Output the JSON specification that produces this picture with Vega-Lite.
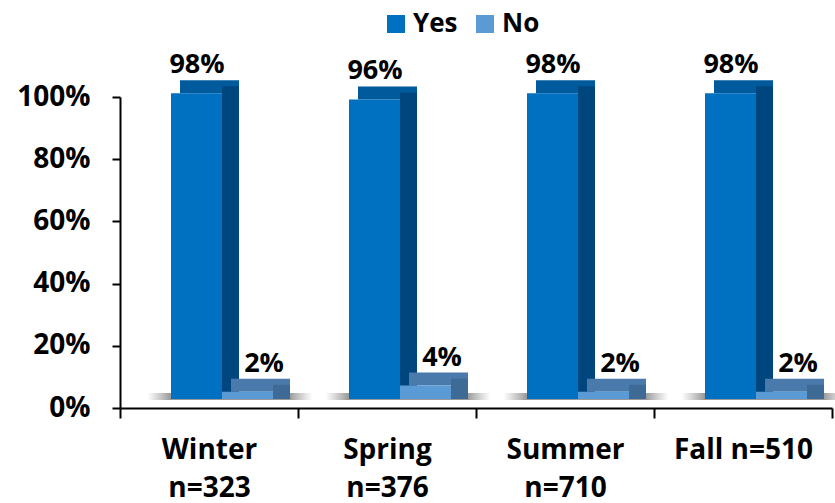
{
  "$schema": "https://vega.github.io/schema/vega-lite/v6.json",
  "width": 712,
  "height": 311,
  "autosize": "none",
  "padding": {"left": 120, "top": 97, "right": 3, "bottom": 95},
  "config": {
    "view": {"stroke": null},
    "font": "Open Sans",
    "axisY": {
      "format": ".0%",
      "grid": false,
      "domainColor": "#000000",
      "domainWidth": 2,
      "tickColor": "#000000",
      "tickWidth": 2,
      "tickSize": 8,
      "labelFontSize": 28,
      "labelFontWeight": "bold",
      "labelColor": "#000000",
      "labelPadding": 22
    },
    "axisX": {
      "domainColor": "#000000",
      "domainWidth": 2,
      "tickColor": "#000000",
      "tickWidth": 2,
      "tickSize": 10,
      "tickBand": "extent",
      "labelFontSize": 28,
      "labelFontWeight": "bold",
      "labelColor": "#000000",
      "labelPadding": 18,
      "labelLineHeight": 38,
      "labelAngle": 0,
      "labelExpr": "split(datum.label, '|')"
    }
  },
  "data": {
    "values": [
      {"Season": "Winter|n=323", "Series": "Yes", "Pct": 0.98},
      {"Season": "Winter|n=323", "Series": "No", "Pct": 0.02},
      {"Season": "Spring|n=376", "Series": "Yes", "Pct": 0.96},
      {"Season": "Spring|n=376", "Series": "No", "Pct": 0.04},
      {"Season": "Summer|n=710", "Series": "Yes", "Pct": 0.98},
      {"Season": "Summer|n=710", "Series": "No", "Pct": 0.02},
      {"Season": "Fall n=510", "Series": "Yes", "Pct": 0.98},
      {"Season": "Fall n=510", "Series": "No", "Pct": 0.02}
    ]
  },
  "encoding": {
    "x": {
      "field": "Season",
      "type": "nominal",
      "sort": null,
      "title": null,
      "scale": {"paddingInner": 0, "paddingOuter": 0}
    },
    "y": {
      "field": "Pct",
      "type": "quantitative",
      "title": null,
      "scale": {"domain": [0, 1]},
      "axis": {"values": [0, 0.2, 0.4, 0.6, 0.8, 1]}
    }
  },
  "layer": [
    {
      "transform": [{"filter": "datum.Series === 'Yes'"}],
      "mark": {
        "type": "bar",
        "width": 165,
        "xOffset": 21,
        "yOffset": -15,
        "y2Offset": -8,
        "color": {
          "gradient": "linear",
          "x1": 0, "y1": 0, "x2": 1, "y2": 0,
          "stops": [
            {"offset": 0, "color": "rgba(90,90,90,0)"},
            {"offset": 0.14, "color": "rgba(70,70,70,0.55)"},
            {"offset": 0.86, "color": "rgba(70,70,70,0.55)"},
            {"offset": 1, "color": "rgba(90,90,90,0)"}
          ]
        }
      },
      "encoding": {
        "y": {"datum": 0, "type": "quantitative", "title": null, "axis": {"values": [0, 0.2, 0.4, 0.6, 0.8, 1]}},
        "y2": {"datum": 0}
      }
    },
    {
      "transform": [{"filter": "datum.Series === 'Yes'"}],
      "mark": {"type": "bar", "width": 59, "xOffset": 0.5, "yOffset": -23, "y2Offset": -10, "color": "#005A9C"},
      "encoding": {"y2": {"field": "Pct"}}
    },
    {
      "transform": [{"filter": "datum.Series === 'Yes'"}],
      "mark": {"type": "bar", "width": 17, "xOffset": 21.5, "yOffset": -17, "y2Offset": -9, "color": "#00467E"},
      "encoding": {"y2": {"datum": 0}}
    },
    {
      "transform": [{"filter": "datum.Series === 'Yes'"}],
      "mark": {"type": "bar", "width": 51, "xOffset": -12.5, "yOffset": -10, "y2Offset": -9},
      "encoding": {
        "y2": {"datum": 0},
        "color": {
          "field": "Series",
          "type": "nominal",
          "scale": {"domain": ["Yes", "No"], "range": ["#0070C0", "#5B9BD5"]},
          "legend": {
            "title": null,
            "orient": "none",
            "legendX": 263,
            "legendY": -86,
            "direction": "horizontal",
            "symbolType": "square",
            "symbolSize": 324,
            "symbolStrokeWidth": 0,
            "labelFontSize": 26,
            "labelFontWeight": "bold",
            "labelColor": "#000000",
            "labelOffset": 4,
            "columnPadding": 14,
            "padding": 0
          }
        }
      }
    },
    {
      "transform": [{"filter": "datum.Series === 'No'"}],
      "mark": {"type": "bar", "width": 59, "xOffset": 51.5, "yOffset": -23, "y2Offset": -10, "color": "#4A7AAB"},
      "encoding": {"y2": {"field": "Pct"}}
    },
    {
      "transform": [{"filter": "datum.Series === 'No'"}],
      "mark": {"type": "bar", "width": 17, "xOffset": 72.5, "yOffset": -17, "y2Offset": -9, "color": "#3E6A96"},
      "encoding": {"y2": {"datum": 0}}
    },
    {
      "transform": [{"filter": "datum.Series === 'No'"}],
      "mark": {"type": "bar", "width": 51, "xOffset": 38.5, "yOffset": -10, "y2Offset": -9},
      "encoding": {
        "y2": {"datum": 0},
        "color": {"field": "Series", "type": "nominal"}
      }
    },
    {
      "transform": [{"filter": "datum.Series === 'Yes'"}],
      "mark": {"type": "text", "xOffset": -12, "yOffset": -30, "baseline": "alphabetic", "fontSize": 27, "fontWeight": "bold", "color": "#000000"},
      "encoding": {"text": {"field": "Pct", "format": ".0%"}}
    },
    {
      "transform": [{"filter": "datum.Series === 'No'"}],
      "mark": {"type": "text", "xOffset": 55, "yOffset": -30, "baseline": "alphabetic", "fontSize": 27, "fontWeight": "bold", "color": "#000000"},
      "encoding": {"text": {"field": "Pct", "format": ".0%"}}
    }
  ]
}
